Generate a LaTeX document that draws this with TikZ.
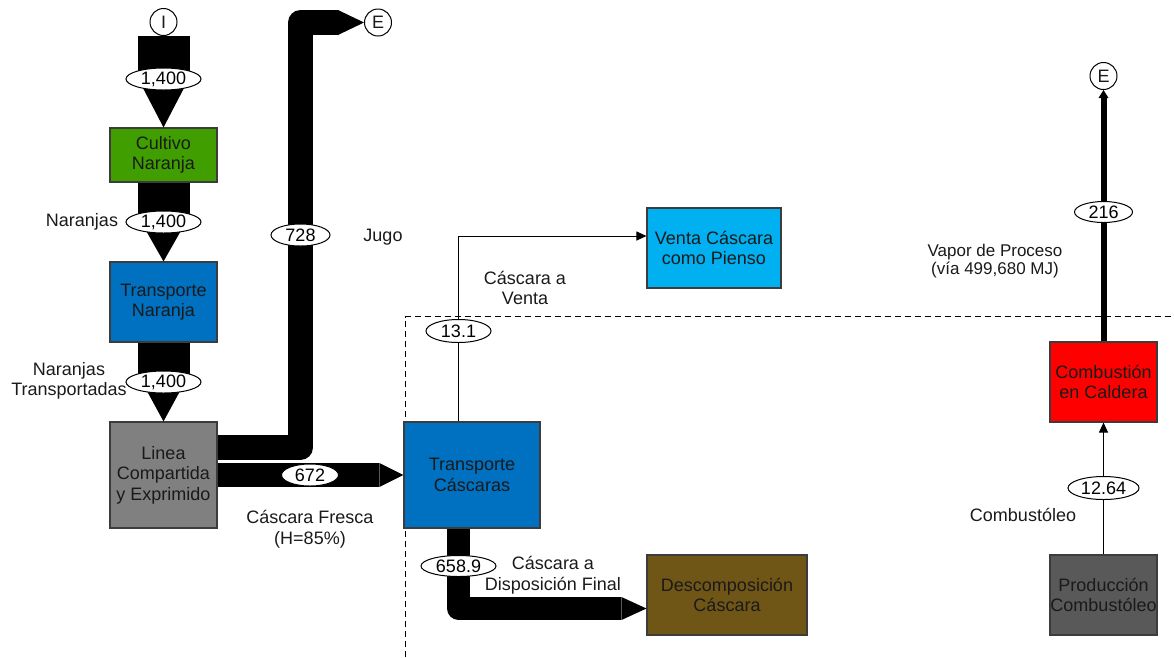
\documentclass[tikz,border=0pt]{standalone}
\usepackage{fontspec}
\setmainfont{Liberation Sans}
\usetikzlibrary{arrows.meta,shapes.geometric,calc}

\definecolor{cultivo}{RGB}{64,158,0}
\definecolor{azul}{RGB}{0,112,192}
\definecolor{celeste}{RGB}{0,176,240}
\definecolor{gris}{RGB}{128,128,128}
\definecolor{cafe}{RGB}{112,86,22}
\definecolor{rojo}{RGB}{255,0,0}
\definecolor{grisosc}{RGB}{89,89,89}
\definecolor{borde}{RGB}{60,60,60}
\definecolor{texto}{RGB}{26,26,26}

\begin{document}
\begin{tikzpicture}[x=1pt,y=-1pt,
  every node/.style={font=\fontsize{18}{20.5}\selectfont, text=texto},
  box/.style={rectangle, draw=borde, line width=1.1pt, inner sep=0pt, align=center},
  term/.style={circle, draw=black, line width=1pt, fill=white, minimum size=27pt, inner sep=0pt},
  val/.style={ellipse, draw=black, line width=1pt, fill=white, inner sep=0pt, text=black},
  flow/.style={draw=black, line join=round},
  thinline/.style={draw=black, line width=1pt},
  lbl/.style={align=center},
  dashline/.style={draw=black, line width=1pt, dash pattern=on 6pt off 4pt}]

\useasboundingbox (0,0) rectangle (1174,657);

% boundary of the peel-processing system
\draw[dashline] (405,657) |- (1174,316.5);

% process boxes
\node[box, fill=cultivo, minimum width=107pt, minimum height=54pt] (cult) at (163.5,155) {Cultivo\\Naranja};
\node[box, fill=azul, minimum width=107pt, minimum height=80pt] (trn) at (163.5,302) {Transporte\\Naranja};
\node[box, fill=gris, minimum width=107pt, minimum height=106pt] (lin) at (163.5,475) {Linea\\Compartida\\y Exprimido};
\node[box, fill=azul, minimum width=136pt, minimum height=106pt] (tc) at (472,475) {Transporte\\Cáscaras};
\node[box, fill=celeste, minimum width=134pt, minimum height=80pt] (venta) at (714,248) {Venta Cáscara\\como Pienso};
\node[box, fill=cafe, minimum width=160pt, minimum height=80pt] (desc) at (727,595) {Descomposición\\Cáscara};
\node[box, fill=rojo, minimum width=107pt, minimum height=80pt] (comb) at (1103.5,382) {Combustión\\en Caldera};
\node[box, fill=grisosc, minimum width=107pt, minimum height=80pt] (prod) at (1103.5,595) {Producción\\Combustóleo};

% inputs and exits
\node[term] (I) at (163.5,22) {I};
\node[term] (E1) at (378,22.5) {E};
\node[term] (E2) at (1103.5,76) {E};

% main mass flows
\draw[flow, line width=52pt, -{Triangle[width=50pt,length=48pt,line width=0pt]}] (I.south) -- (cult.north);
\draw[flow, line width=52pt, -{Triangle[width=50pt,length=44pt,line width=0pt]}] (cult.south) -- (trn.north);
\draw[flow, line width=52pt, -{Triangle[width=50pt,length=46pt,line width=0pt]}] (trn.south) -- (lin.north);
\draw[flow, line width=25pt, -{Triangle[width=25pt,length=26pt,line width=0pt]}]
  ([yshift=27.5pt]lin.east) -| (300.5,22.5) -- (E1.west);
\draw[flow, line width=24pt, -{Triangle[width=24pt,length=24pt,line width=0pt]}] (lin.east) -- (tc.west);
\draw[flow, line width=23pt, -{Triangle[width=23pt,length=25pt,line width=0pt]}]
  ([xshift=-13.5pt]tc.south) |- ([yshift=-13.5pt]desc.west);

% minor flows
\draw[thinline, -{Triangle[width=9pt,length=10pt]}] ([xshift=-13.5pt]tc.north) |- ([yshift=12pt]venta.west);
\draw[thinline, -{Triangle[width=9pt,length=10pt]}] (prod.north) -- (comb.south);
\draw[flow, line width=6pt, -{Triangle[width=10pt,length=8pt,line width=0pt]}] (comb.north) -- (E2.south);

% flow values
\node[val, minimum width=75pt, minimum height=22pt] (v1) at (163.5,79) {1,400};
\node[val, minimum width=75pt, minimum height=22pt] (v2) at (163.5,222) {1,400};
\node[val, minimum width=75pt, minimum height=22pt] (v3) at (163.5,382) {1,400};
\node[val, minimum width=59pt, minimum height=22pt] (v728) at (300.5,235) {728};
\node[val, minimum width=57pt, minimum height=22pt] (v672) at (310,475) {672};
\node[val, minimum width=65pt, minimum height=23pt] (v131) at (458.5,331) {13.1};
\node[val, minimum width=75pt, minimum height=21pt] (v658) at (458.5,566) {658.9};
\node[val, minimum width=58pt, minimum height=21pt] (v216) at (1103.5,212) {216};
\node[val, minimum width=71pt, minimum height=23pt] (v1264) at (1103.5,488) {12.64};

% flow labels
\node[lbl] (lNar) at (82,222) {Naranjas};
\node[lbl] (lNarT) at (69,381) {Naranjas\\Transportadas};
\node[lbl] (lJugo) at (383,237) {Jugo};
\node[lbl] (lFresca) at (310,529) {Cáscara Fresca\\(H=85\%)};
\node[lbl] (lVenta) at (525,288) {Cáscara a\\Venta};
\node[lbl] (lDisp) at (553,575) {Cáscara a\\Disposición Final};
\node[lbl, font=\fontsize{17}{18.5}\selectfont] (lVapor) at (995,261) {Vapor de Proceso\\(vía 499,680 MJ)};
\node[lbl] (lComb) at (1023,515) {Combustóleo};

\end{tikzpicture}
\end{document}
